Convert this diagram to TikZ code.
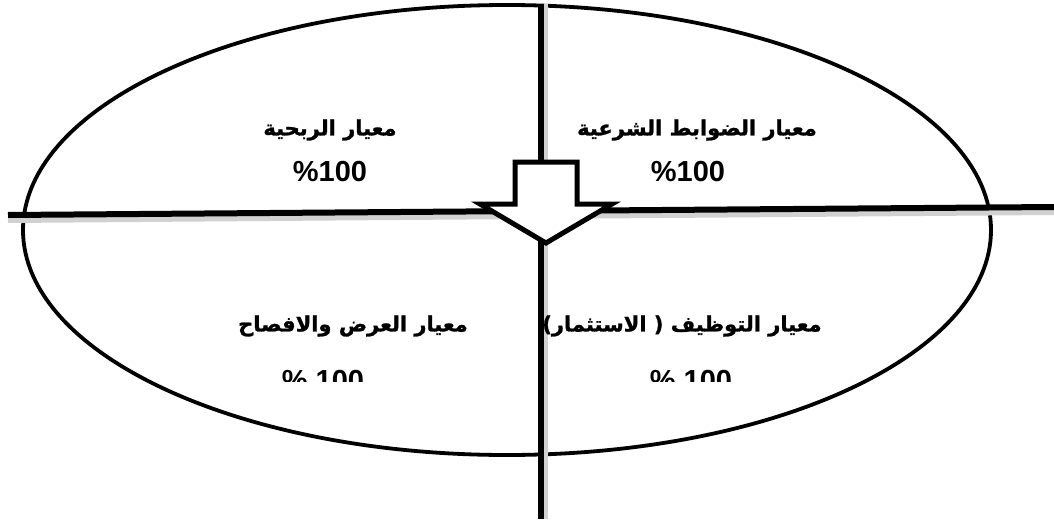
\documentclass[tikz,border=0pt]{standalone}
\usepackage{fontspec}
\usetikzlibrary{shapes.geometric}
\setmainfont{Liberation Sans}
\newfontfamily\arabicfont[Script=Arabic,BoldFeatures={FakeBold=1.2}]{DejaVu Sans}
\TeXXeTstate=1
\begin{document}
\begin{tikzpicture}[x=1pt,y=-1pt,
  thickline/.style={line width=6pt,black},
  shadowline/.style={line width=6pt,black!18},
  ar/.style={font=\arabicfont\bfseries\fontsize{21}{25}\selectfont,inner sep=0pt},
  pct/.style={font=\bfseries\fontsize{29}{32}\selectfont,inner sep=0pt}]
\useasboundingbox (0,0) rectangle (1054,519);
% ellipse
\node[draw,line width=3.8pt,ellipse,minimum width=968pt,minimum height=450pt,inner sep=0pt] (oval) at (507,230) {};
% coordinates of the axes
\coordinate (vtop) at (541,4);
\coordinate (vbot) at (541,519);
\coordinate (hl) at (8,215);
\coordinate (hr) at (1054,207);
% shadows
\draw[shadowline] ([shift={(0,5)}]hl) -- ([shift={(0,5)}]hr);
\draw[shadowline] ([shift={(4,0)}]vtop) -- ([shift={(4,0)}]vbot);
% axes
\draw[thickline] (hl) -- (hr);
\draw[thickline] (vtop) -- (vbot);
% block arrow
\draw[line width=5pt,fill=white,line join=miter] (515,162) -- (577,162) -- (577,204) -- (612,204) -- (546,243) -- (480,204) -- (515,204) -- cycle;
% texts
\node[ar] (t1) at (330,130) {\beginR معيار الربحية\endR};
\node[pct] (p1) at (330,172) {\%100};
\node[ar] (t2) at (697,130) {\beginR معيار الضوابط الشرعية\endR};
\node[pct] (p2) at (688,172) {\%100};
\node[ar] (t3) at (353,326) {\beginR معيار العرض والافصاح\endR};
\node[ar] (t4) at (682,326) {\beginR معيار التوظيف ( الاستثمار)\endR};
\begin{scope}
\clip (0,0) rectangle (1054,381);
\node[pct] (p3) at (323,381) {\% 100};
\node[pct] (p4) at (691,381) {\% 100};
\end{scope}
\end{tikzpicture}
\end{document}
